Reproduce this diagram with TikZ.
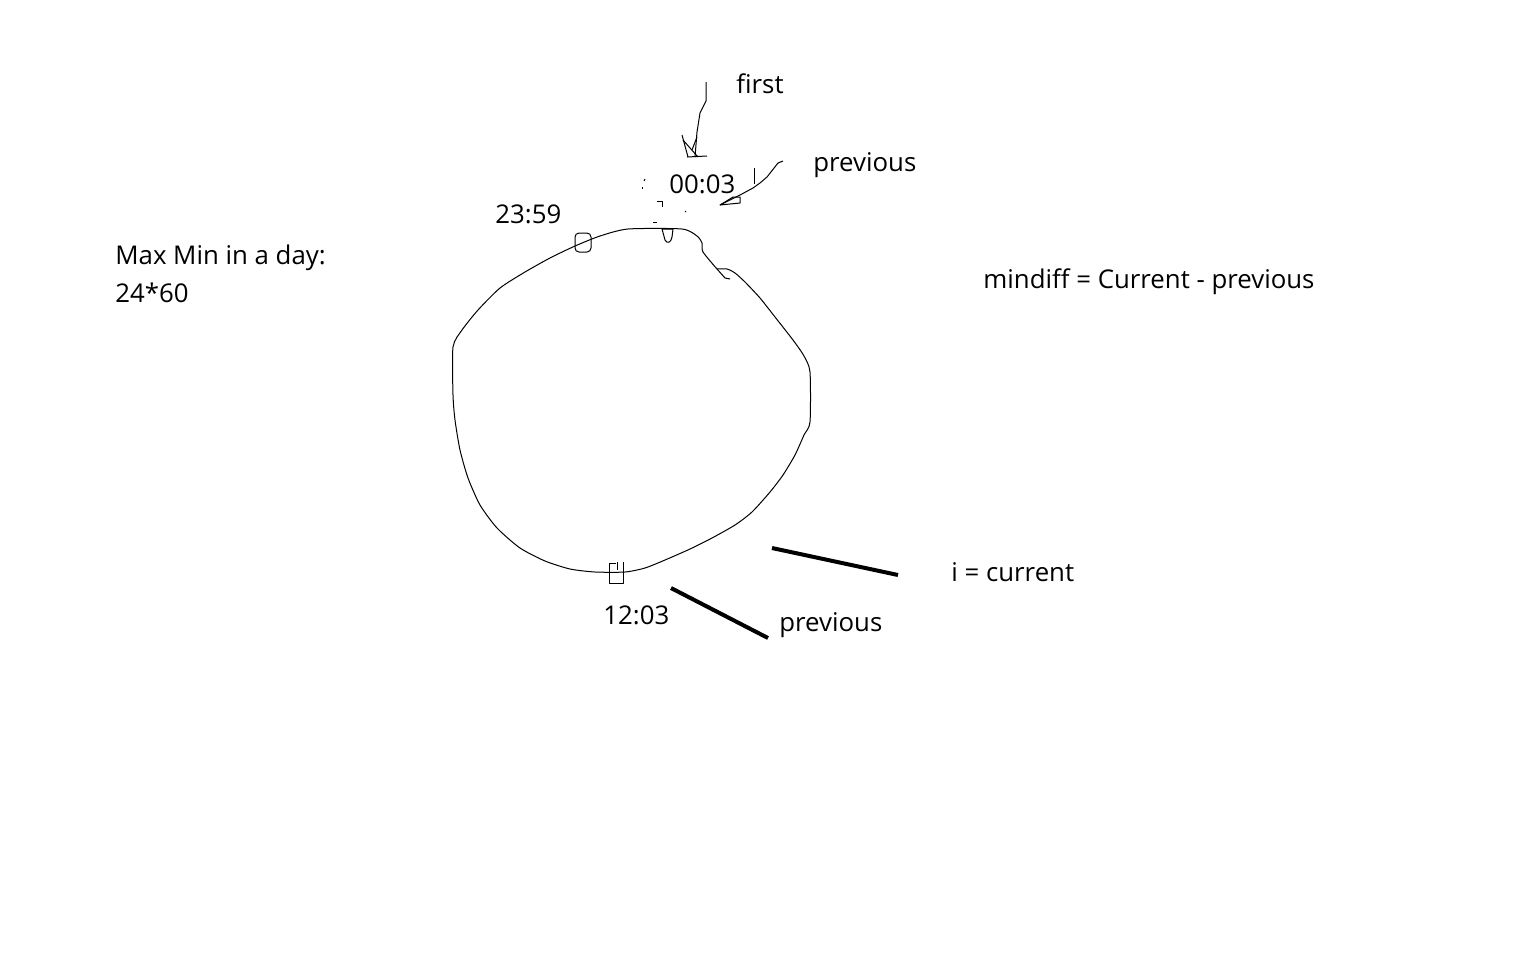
\documentclass[tikz,border=0pt]{standalone}
\usepackage{fontspec}
\setmainfont{Open Sans}
\begin{document}
\begin{tikzpicture}[x=0.5pt,y=-0.5pt,
    lbl/.style={anchor=west,inner sep=0pt,font=\fontsize{12.9}{15}\selectfont},
    pen/.style={line width=0.5pt,line join=round},
    bold stroke/.style={line width=2pt}]

      \useasboundingbox (0,0) rectangle (1536,960);

      % the day as a circle
      \draw[pen] plot[smooth,tension=0.4] coordinates {
        (717,269) (703,252) (702,243) (697,236) (682,229) (628,229)
        (600,236) (575,246) (550,258) (525,272) (500,288) (478,310)
        (462,330) (453,347) (453,395) (455,420) (460,450) (468,478)
        (480,505) (497,528) (520,548) (545,561) (570,569) (595,572)
        (625,572) (645,568) (665,560) (690,549) (712,538) (735,525)
        (752,512) (770,492) (783,475) (795,455) (804,435) (810,422)
        (810,372) (804,356) (793,340) (775,317) (760,298) (745,282)
        (735,273) (727,269) (717,269)};
      \draw[pen] (717,269) -- (725,278) -- (730,279);

      % markers on the circle
      \draw[pen,rounded corners=2pt] (575,233) rectangle (591,252);
      \draw[pen] (662,229) -- (673,229) -- (672,237)
        .. controls (671,243) and (667,244) .. (665,240) -- (662,229);
      \draw[pen] (616,563) -- (609,563) -- (609,583) -- (623,583) -- (623,562);
      \draw[pen] (617,562) -- (617,570);

      % labels
      \node[lbl] (first)    at (736,84)  {first};
      \node[lbl] (prevtop)  at (813,165) {previous};
      \node[lbl] (zero)     at (669,184) {00:03};
      \node[lbl] (late)     at (495,214) {23:59};
      \node[lbl] (maxmin)   at (115,258) {Max Min in a day:};
      \node[lbl] (total)    at (115,293) {24*60};
      \node[lbl] (mindiff)  at (983,282) {mindiff = Current - previous};
      \node[lbl] (current)  at (951,572) {i = current};
      \node[lbl] (noon)     at (603,615) {12:03};
      \node[lbl] (prevlow)  at (779,625) {previous};

      % hand drawn arrow from first
      \coordinate (f0) at (706,82);
      \coordinate (f1) at (706,101);
      \coordinate (f2) at (700,113);
      \coordinate (f3) at (697,132);
      \coordinate (f4) at (695,157);
      \draw[pen] (f0) -- (f1) -- (f2) -- (f3) -- (f4);
      \draw[pen] (682,135) -- (688,157);
      \draw[pen] (683,140) -- (698,157);
      \draw[pen] (692,150) -- (697,137);
      \draw[pen] (687,157) -- (707,156);

      % hand drawn arrow from previous
      \coordinate (p0) at (783,161);
      \coordinate (p1) at (720,205);
      \draw[pen] (p0) -- (778,163) -- (767,177) -- (760,183) -- (753,188)
        -- (740,195) -- (p1);
      \draw[pen] (p1) -- (733,197) -- (740,197) -- (740,203) -- cycle;
      \draw[pen] (754,168) -- (754,184);

      % stray marks
      \draw[pen] (645,179) -- (644,181);
      \draw[pen] (642,187) -- (642,189);
      \draw[pen] (657,201) -- (662,201) -- (662,207);
      \draw[pen] (685,211) -- (686,212);
      \draw[pen] (653,222) -- (657,222);

      % bold strokes
      \coordinate (c0) at (772,548);
      \coordinate (c1) at (898,575);
      \coordinate (q0) at (671,588);
      \coordinate (q1) at (768,638);
      \draw[bold stroke] (c0) -- (c1);
      \draw[bold stroke] (q0) -- (q1);

    \end{tikzpicture}
\end{document}
